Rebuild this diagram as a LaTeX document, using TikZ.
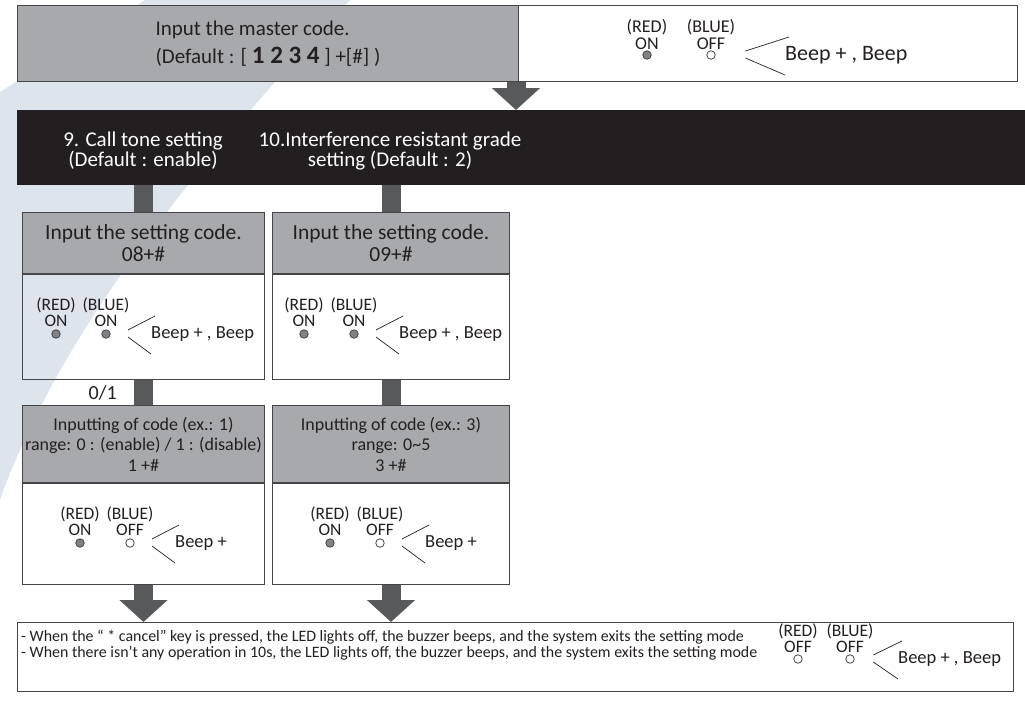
\documentclass[tikz,border=0pt]{standalone}
\usepackage{fontspec}
\setmainfont{Carlito}
\usepackage{xcolor}
\usepackage{tikz}
\usetikzlibrary{arrows.meta, positioning, calc}
\definecolor{stripe}{RGB}{221, 228, 235}
\definecolor{hdrgray}{RGB}{167, 169, 172}
\definecolor{arrowgray}{RGB}{88, 89, 91}
\definecolor{barblack}{RGB}{35, 31, 32}
\definecolor{linegray}{RGB}{70, 70, 72}
\definecolor{ledgray}{RGB}{128, 130, 133}
\definecolor{txt}{RGB}{35, 31, 32}

% gap between an LED and its label
\newcommand{\lblgap}{3pt}
% one pair of LEDs with the buzzer mark: name, red LED at, gap, red, blue, beep gap, beep text
\newcommand{\ledrow}[7]{%
  \node[led#4] (#1r) at (#2) {};
  \node[led#5] (#1b) at ($(#1r)+(#3,0)$) {};
  \node[ledlbl, above=\lblgap of #1r] (#1rl) {(RED)\\#4};
  \node[ledlbl, above=\lblgap of #1b] (#1bl) {(BLUE)\\#5};
  \node[beep] (#1bp) at ($(#1b)+(#6,0)$) {#7};
  \coordinate (#1v) at ($(#1b.east)!0.43!(#1bp.west)$);
  \draw[tick] ($(#1bp.west)+(4,-18)$) -- ($(#1v)+(0,-4)$)
              ($(#1v)+(0,3)$) -- ($(#1bp.west)+(0,20)$);
}

\begin{document}
\begin{tikzpicture}[
    x=1pt, y=-1pt,
    hdr/.style={draw=linegray, line width=1pt, fill=hdrgray, text=txt,
                align=center, inner sep=0pt},
    body/.style={draw=linegray, line width=1pt, inner sep=0pt},
    shaft/.style={draw=arrowgray, line width=19pt},
    bigarrow/.style={shaft, -{Triangle[width=47pt,length=22pt]}},
    bartxt/.style={text=white, align=center, inner sep=0pt,
                   font=\fontsize{21}{20}\selectfont},
    ledON/.style={circle, draw=linegray, fill=ledgray, line width=0.8pt,
                  minimum size=8.5pt, inner sep=0pt},
    ledOFF/.style={ledON, fill=white},
    ledlbl/.style={text=txt, align=center, inner sep=0pt,
                   font=\fontsize{17.5}{16}\selectfont},
    beep/.style={text=txt, inner sep=0pt, anchor=west,
                 font=\fontsize{18.5}{20}\selectfont},
    tick/.style={draw=txt, line width=0.7pt}
]
\useasboundingbox (0,0) rectangle (1025,704);

%% background band
\fill[stripe] (145,0) -- (350,0) .. controls (200,160) and (60,330) .. (0,500)
    -- (0,92) -- cycle;

%% master code
\node[hdr, minimum width=501pt, minimum height=76pt, anchor=north west, align=left,
      font=\fontsize{21}{28}\selectfont] (master) at (17,5)
    {Input the master code.\\(Default : [ {\fontsize{25}{25}\selectfont\bfseries 1 2 3 4} ] +[\#] )};
\node[body, minimum width=499pt, minimum height=76pt, anchor=north west] (mstate) at (518,5) {};
\begin{scope}[ledlbl/.append style={font=\fontsize{18}{17}\selectfont},
              beep/.append style={font=\fontsize{22}{24}\selectfont}]
\renewcommand{\lblgap}{1pt}
\ledrow{top}{647,55}{64}{ON}{OFF}{74}{Beep + , Beep}
\end{scope}

%% menu bar
\node[fill=barblack, minimum width=1008pt, minimum height=75pt, inner sep=0pt,
      anchor=north west] (bar) at (17,110) {};
\node[bartxt] (t9)  at (143,151) {9. Call tone setting\\(Default : enable)};
\node[bartxt] (t10) at (390,151) {10.Interference resistant grade\\setting (Default : 2)};
\draw[bigarrow] ([xshift=-3pt]master.south east) -- ([xshift=-3pt]master.south east |- bar.north);

%% setting code
\node[hdr, minimum width=242pt, minimum height=61pt, anchor=north west,
      font=\fontsize{21.5}{22}\selectfont] (code9) at (22,212) {Input the setting code.\\08+\#};
\node[body, minimum width=242pt, minimum height=105pt, anchor=north] (led9) at (code9.south) {};
\node[hdr, minimum width=237pt, minimum height=61pt, anchor=north west,
      font=\fontsize{21.5}{22}\selectfont] (code10) at (272,212) {Input the setting code.\\09+\#};
\node[body, minimum width=237pt, minimum height=105pt, anchor=north] (led10) at (code10.south) {};
\ledrow{a}{56,334}{50}{ON}{ON}{45}{Beep + , Beep}
\ledrow{b}{304,334}{50}{ON}{ON}{45}{Beep + , Beep}

%% value
\node[hdr, minimum width=242pt, minimum height=77pt, anchor=north west,
      font=\fontsize{18}{20.5}\selectfont] (val9) at (22,405)
    {Inputting of code (ex.: 1)\\range: 0 : (enable) / 1 : (disable)\\1 +\#};
\node[body, minimum width=242pt, minimum height=101pt, anchor=north] (res9) at (val9.south) {};
\node[hdr, minimum width=237pt, minimum height=77pt, anchor=north west,
      font=\fontsize{18}{20.5}\selectfont] (val10) at (272,405)
    {Inputting of code (ex.: 3)\\range: 0\textasciitilde5\\3 +\#};
\node[body, minimum width=237pt, minimum height=101pt, anchor=north] (res10) at (val10.south) {};
\ledrow{c}{80,543}{50}{ON}{OFF}{45}{Beep +}
\ledrow{d}{330,543}{50}{ON}{OFF}{45}{Beep +}

\draw[shaft] (bar.south -| code9.north) -- (code9.north);
\draw[shaft] (bar.south -| code10.north) -- (code10.north);
\draw[shaft] (led9.south) -- node[left=14pt, text=txt, font=\fontsize{20}{20}\selectfont] {0/1} (val9.north);
\draw[shaft] (led10.south) -- (val10.north);

%% exit
\node[body, minimum width=996pt, minimum height=69pt, anchor=north west] (note) at (17,622) {};
\node[text=txt, align=left, inner sep=0pt, anchor=west,
      font=\fontsize{15.9}{16}\selectfont] (why) at (21,645)
    {- When the “ * cancel” key is pressed, the LED lights off, the buzzer beeps, and the system exits the setting mode\\
     - When there isn’t any operation in 10s, the LED lights off, the buzzer beeps, and the system exits the setting mode};
\begin{scope}[ledlbl/.append style={font=\fontsize{17.5}{15.5}\selectfont}]
\renewcommand{\lblgap}{2pt}
\ledrow{e}{798,659}{52}{OFF}{OFF}{48}{Beep + , Beep}
\end{scope}
\draw[bigarrow] (res9.south) -- (res9.south |- note.north);
\draw[bigarrow] (res10.south) -- (res10.south |- note.north);

\end{tikzpicture}
\end{document}
